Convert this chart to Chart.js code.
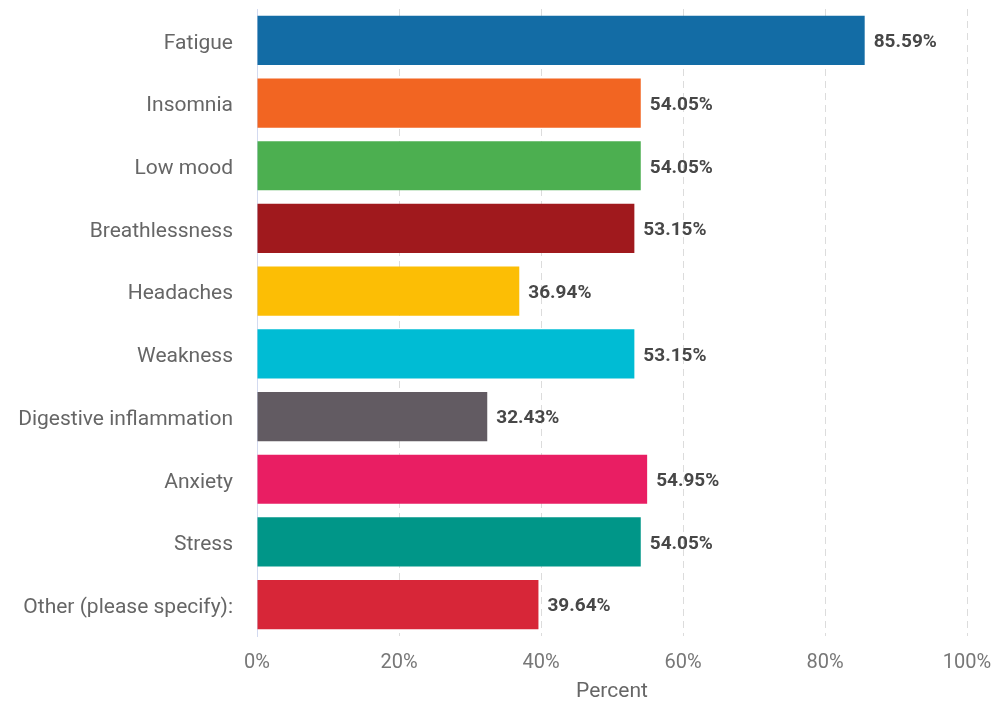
<!DOCTYPE html>
<html>
<head>
<meta charset="utf-8">
<script src="https://cdn.jsdelivr.net/npm/chart.js@4/dist/chart.umd.min.js"></script>
<style>
  html, body { margin: 0; padding: 0; background: #fff; }
  #wrap { width: 995px; height: 704px; position: relative; }
</style>
</head>
<body>
<div id="wrap"><canvas id="chart"></canvas></div>
<script>
  // symptoms and share of respondents (%)
  const symptoms = ['Fatigue', 'Insomnia', 'Low mood', 'Breathlessness', 'Headaches',
    'Weakness', 'Digestive inflammation', 'Anxiety', 'Stress', 'Other (please specify):']
  const percents = [85.59, 54.05, 54.05, 53.15, 36.94, 53.15, 32.43, 54.95, 54.05, 39.64]
  const barColors = ['#136ca5', '#f26522', '#4caf50', '#a0191d', '#fcbe05',
    '#00bcd4', '#625b62', '#e91e63', '#009688', '#d72638']
  const xTicks = [0, 20, 40, 60, 80, 100]

  // draw the value text next to each bar
  const valueLabels = {
    id: 'valueLabels',
    afterDatasetsDraw(chart) {
      const ctx = chart.ctx
      const meta = chart.getDatasetMeta(0)
      ctx.save()
      ctx.font = 'bold 19px Roboto'
      ctx.fillStyle = '#474747'
      ctx.textBaseline = 'middle'
      ctx.textAlign = 'left'
      meta.data.forEach((bar, i) => {
        ctx.fillText(percents[i].toFixed(2) + '%', bar.x + 9, bar.y + 2)
      })
      ctx.restore()
    }
  }

  new Chart(document.getElementById('chart'), {
    type: 'bar',
    data: {
      labels: symptoms,
      datasets: [{
        data: percents,
        backgroundColor: barColors,
        borderWidth: 0,
        categoryPercentage: 0.8,
        barPercentage: 0.98
      }]
    },
    options: {
      indexAxis: 'y',
      responsive: true,
      maintainAspectRatio: false,
      animation: false,
      layout: { padding: { top: 9, right: 28, left: 0, bottom: 0 } },
      plugins: {
        legend: { display: false },
        tooltip: { enabled: false }
      },
      scales: {
        x: {
          min: 0,
          max: 100,
          afterBuildTicks(scale) {
            scale.ticks = xTicks.map(v => ({ value: v }))
          },
          afterFit(scale) {
            scale.height = 68
            scale.paddingLeft = 0
            scale.paddingRight = 0
          },
          ticks: {
            padding: 15,
            color: '#777',
            font: { family: 'Roboto', size: 20 },
            callback: v => v + '%'
          },
          grid: {
            color: ctx => ctx.index === 0 ? 'rgba(0,0,0,0)' : '#dcdcdc',
            drawTicks: false,
            lineWidth: 1
          },
          border: { display: false, dash: [7, 5] },
          title: {
            display: true,
            text: 'Percent',
            color: '#666',
            font: { family: 'Roboto', size: 21 },
            padding: { top: 2, bottom: 0 }
          }
        },
        y: {
          afterFit(scale) {
            scale.width = 257
            scale.paddingTop = 0
            scale.paddingBottom = 0
          },
          ticks: {
            padding: 24,
            labelOffset: 3,
            color: '#666',
            font: { family: 'Roboto', size: 21 }
          },
          grid: { display: false, drawTicks: false },
          border: { display: true, color: '#d3daf0', width: 1 }
        }
      }
    },
    plugins: [valueLabels]
  })
</script>
</body>
</html>
